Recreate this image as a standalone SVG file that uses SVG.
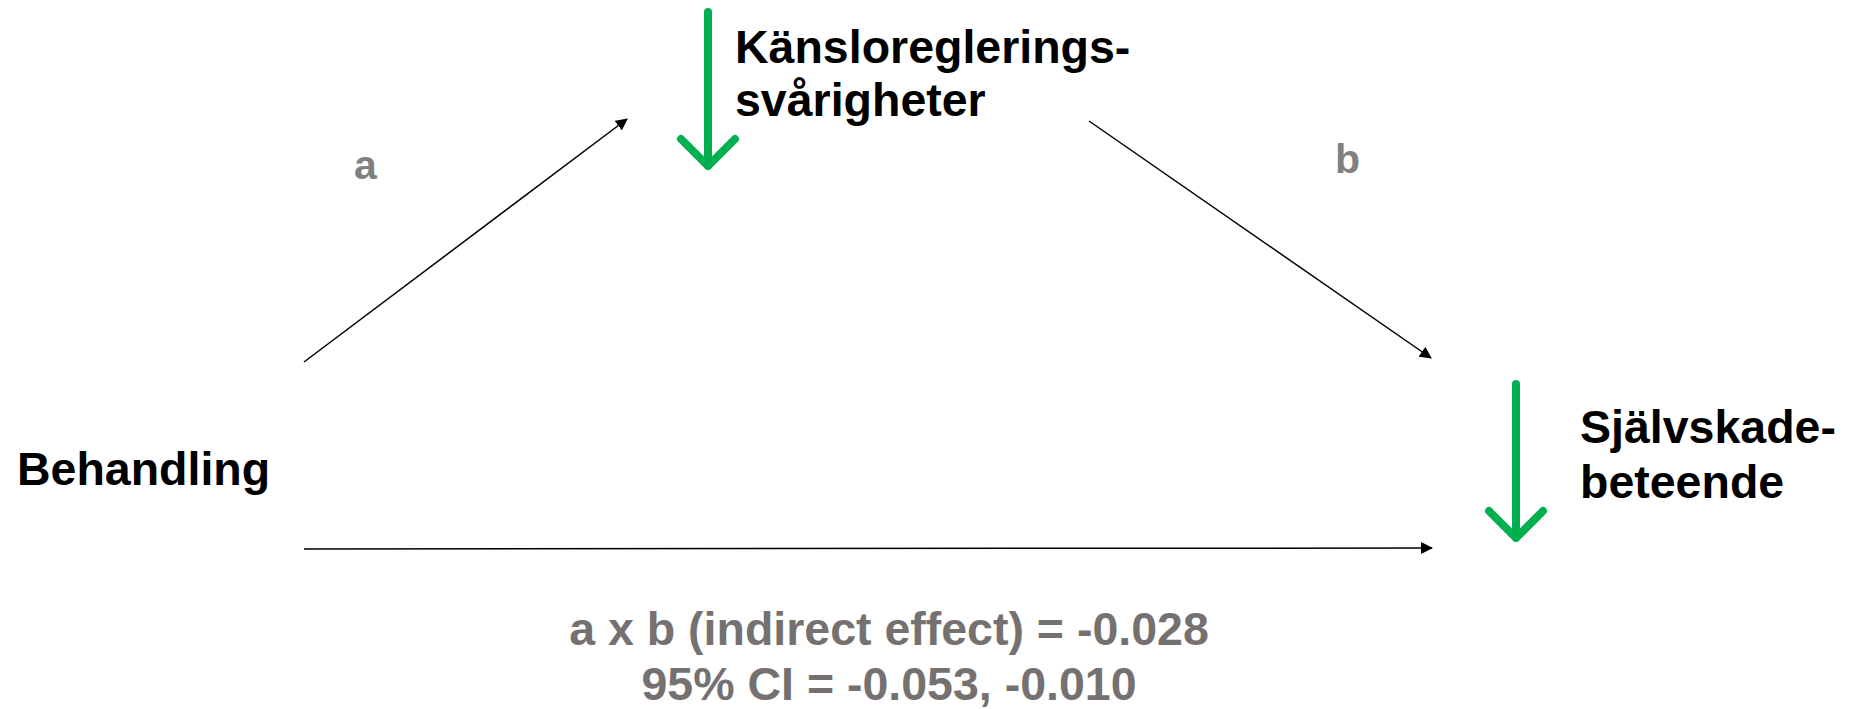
<svg xmlns="http://www.w3.org/2000/svg" width="1858" height="709" viewBox="0 0 1858 709">
<style>
.lbl{font-family:"Liberation Sans",Arial,sans-serif;font-weight:bold;font-size:46.5px;fill:#000}
.path{font-family:"Liberation Sans",Arial,sans-serif;font-weight:bold;font-size:41px;fill:#808080}
.stat{font-family:"Liberation Sans",Arial,sans-serif;font-weight:bold;font-size:46.5px;fill:#767171;text-anchor:middle}
.conn{stroke:#000;stroke-width:1.5;fill:none;marker-end:url(#ah)}
.down{stroke:#00B050;stroke-width:8;stroke-linecap:round;stroke-linejoin:round;fill:none}
</style>
<defs>
<marker id="ah" markerWidth="12" markerHeight="12" refX="11" refY="6" orient="auto" markerUnits="userSpaceOnUse" viewBox="0 0 12 12">
<path d="M0,0 L12,6 L0,12 Z" fill="#000"/>
</marker>
</defs>
<rect width="1858" height="709" fill="#fff"/>
<g id="connectors">
<line class="conn" x1="304" y1="362" x2="627" y2="119"/>
<line class="conn" x1="1089" y1="121" x2="1431" y2="358"/>
<line class="conn" x1="304" y1="549" x2="1432" y2="548"/>
</g>
<g id="node-mediator">
<path class="down" d="M708,12 V166 M681,139 L708,166 L735,139"/>
<text class="lbl" x="735" y="63">Känsloreglerings-</text>
<text class="lbl" x="735" y="116">svårigheter</text>
</g>
<g id="node-outcome">
<path class="down" d="M1516,384 V538 M1489,511 L1516,538 L1543,511"/>
<text class="lbl" x="1580" y="443">Självskade-</text>
<text class="lbl" x="1580" y="498">beteende</text>
</g>
<g id="node-treatment">
<text class="lbl" x="17" y="485">Behandling</text>
</g>
<g id="labels">
<text class="path" x="354" y="179">a</text>
<text class="path" x="1335" y="173">b</text>
<text class="stat" x="889" y="645">a x b (indirect effect) = -0.028</text>
<text class="stat" x="889" y="700">95% CI = -0.053, -0.010</text>
</g>
</svg>
